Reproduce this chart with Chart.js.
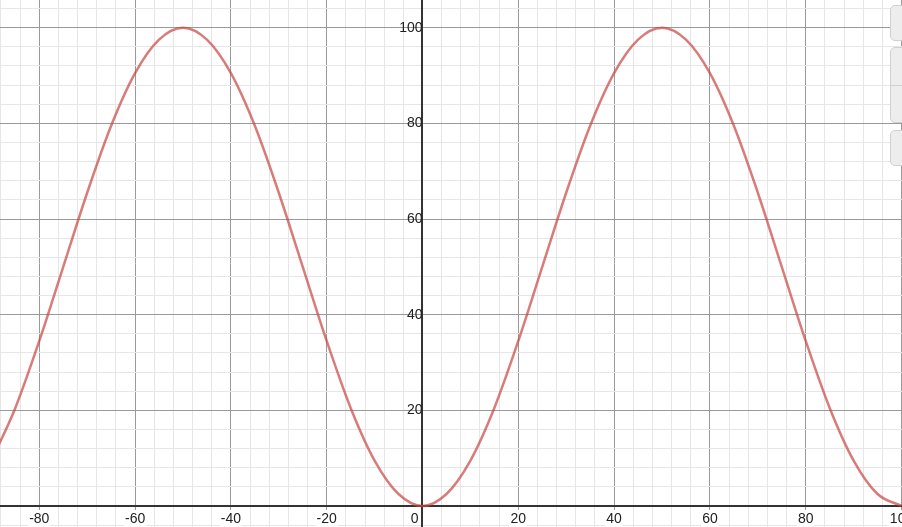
<!DOCTYPE html>
<html>
<head>
<meta charset="utf-8">
<script src="https://cdn.jsdelivr.net/npm/chart.js@4.4.0/dist/chart.umd.min.js"></script>
<style>
  body{margin:0;background:#fff;overflow:hidden;}
  #wrap{position:relative;width:902px;height:527px;}
  .btn{position:absolute;left:890px;width:20px;background:#ededed;border:1px solid #d0d0d0;border-radius:5px;box-sizing:border-box;}
</style>
</head>
<body>
<div id="wrap">
  <canvas id="graph"></canvas>
  <div class="btn" style="top:5px;height:36px;"></div>
  <div class="btn" style="top:47px;height:76px;"><div style="border-top:1px solid #d0d0d0;margin-top:37px;"></div></div>
  <div class="btn" style="top:130px;height:36px;"></div>
</div>
<script>
// ================== Data ==================
const xs = [-90,-85,-80,-75,-70,-65,-60,-55,-50,-45,-40,-35,-30,-25,-20,-15,-10,-5,0,
            5,10,15,20,25,30,35,40,45,50,55,60,65,70,75,80,85,90,95,100];
const ys = [9.5,20.5,34.5,50,65.5,79.5,90.5,97.5,100,97.5,90.5,79.5,65.5,50,34.5,20.5,9.5,2.5,0,
            2.5,9.5,20.5,34.5,50,65.5,79.5,90.5,97.5,100,97.5,90.5,79.5,65.5,50,34.5,20.5,9.5,2.5,0];
const xTickLabels = [-80,-60,-40,-20,20,40,60,80,100];
const yTickLabels = [20,40,60,80,100];
// ================== End Data ==================

const points = xs.map((x,i)=>({x, y: ys[i]}));

function gridColor(ctx){
  const v = Math.round(ctx.tick.value);
  if (v === 0) return '#333';
  if (v % 20 === 0) return '#9a9a9a';
  return '#e6e6e6';
}
function gridWidth(ctx){ return Math.round(ctx.tick.value) === 0 ? 2 : 1; }

// only labelled ticks get a white patch behind them
const backdrop = labels => ctx => labels.includes(Math.round(ctx.tick.value)) ? '#fff' : 'rgba(0,0,0,0)';

function noSpace(scale){
  if (scale.isHorizontal()) scale.height = 0; else scale.width = 0;
  scale.paddingLeft = scale.paddingRight = scale.paddingTop = scale.paddingBottom = 0;
}

// draws the single "0" that sits just left of the origin
const originLabel = {
  id: 'originLabel',
  afterDraw(chart){
    const {ctx, scales} = chart;
    const px = scales.x.getPixelForValue(0), py = scales.y.getPixelForValue(0);
    ctx.save();
    ctx.font = '14px Arial, "Liberation Sans", sans-serif';
    ctx.fillStyle = '#222';
    ctx.textAlign = 'right';
    ctx.textBaseline = 'top';
    ctx.fillText('0', px - 4, py + 6);
    ctx.restore();
  }
};

const tickFont = {family: 'Arial, "Liberation Sans", sans-serif', size: 14};
const axisLine = {display: true, color: '#333', width: 2};

new Chart(document.getElementById('graph'), {
  type: 'line',
  data: {
    datasets: [{
      data: points,
      borderColor: 'rgba(199,68,64,0.7)',
      borderWidth: 2.5,
      pointRadius: 0,
      cubicInterpolationMode: 'monotone',
      fill: false
    }]
  },
  options: {
    responsive: true,
    maintainAspectRatio: false,
    animation: false,
    layout: {padding: 0},
    plugins: {legend: {display: false}, tooltip: {enabled: false}},
    scales: {
      x: {
        type: 'linear',
        position: {y: 0},
        min: -88.2, max: 100.1,
        afterFit: noSpace,
        border: axisLine,
        grid: {color: gridColor, lineWidth: gridWidth, drawTicks: false},
        ticks: {
          stepSize: 4, includeBounds: false, autoSkip: false, maxRotation: 0,
          padding: 5, font: tickFont, color: '#222',
          showLabelBackdrop: true, backdropColor: backdrop(xTickLabels), backdropPadding: 1,
          callback: v => xTickLabels.includes(Math.round(v)) ? String(Math.round(v)) : ''
        }
      },
      y: {
        type: 'linear',
        position: {x: 0},
        min: -4.4, max: 105.8,
        afterFit: noSpace,
        border: axisLine,
        grid: {color: gridColor, lineWidth: gridWidth, drawTicks: false},
        ticks: {
          stepSize: 4, includeBounds: false, autoSkip: false,
          padding: 7, font: tickFont, color: '#222',
          callback: v => yTickLabels.includes(Math.round(v)) ? String(Math.round(v)) : ''
        }
      }
    }
  },
  plugins: [originLabel]
});
</script>
</body>
</html>
